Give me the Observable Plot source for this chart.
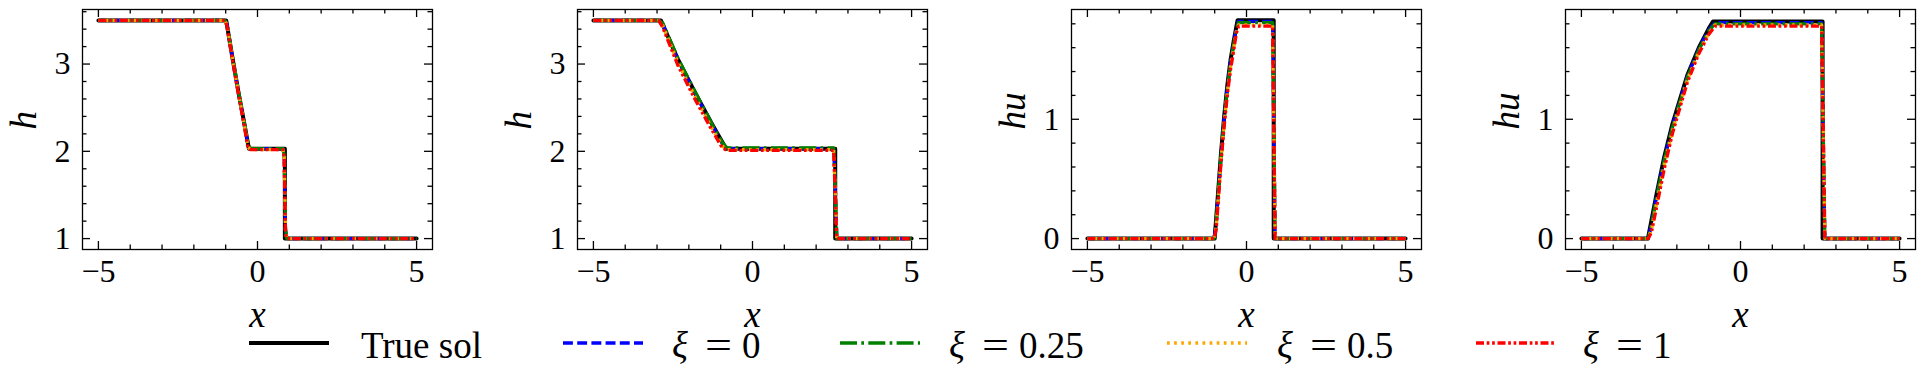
<!DOCTYPE html>
<html><head><meta charset="utf-8">
<script src="https://cdn.jsdelivr.net/npm/d3@7"></script>
<script src="https://cdn.jsdelivr.net/npm/@observablehq/plot@0.6"></script>
<style>
html,body{margin:0;padding:0;background:#fff;}
body{width:1924px;height:392px;overflow:hidden;position:relative;font-family:"Liberation Serif","Times New Roman",serif;}
.panel{position:absolute;top:0;}
.panel svg, .panel svg text, #legend text{font-family:"Liberation Serif","Times New Roman",serif !important;font-variant:normal !important;}
#legend{position:absolute;left:0;top:0;pointer-events:none;}
</style></head><body>
<div id="p1" class="panel"></div>
<div id="p2" class="panel"></div>
<div id="p3" class="panel"></div>
<div id="p4" class="panel"></div>
<svg id="legend" width="1924" height="392"></svg>
<script>
// ---------------- data ----------------
const seriesNames = ["True sol", "0", "0.25", "0.5", "1"];

// ticks
const xMajorTicks = [-5, 0, 5];
const xMinorTicks = [-4, -3, -2, -1, 1, 2, 3, 4];
const hMajorTicks = [1, 2, 3];
const hMinorTicks = [1.2, 1.4, 1.6, 1.8, 2.2, 2.4, 2.6, 2.8, 3.2, 3.4, 3.6];
const huMajorTicks = [0, 1];
const huMinorTicks = [0.2, 0.4, 0.6, 0.8, 1.2, 1.4, 1.6, 1.8];

// panel 1 : h, early time
const p1TrueX = [-5, -0.985, -0.8, -0.6, -0.4, -0.27, 0.86, 0.86, 5];
const p1TrueY = [3.5, 3.5, 3.10, 2.68, 2.29, 2.03, 2.03, 1.0, 1.0];
const p1NumX  = [-5, -1.03, -0.96, -0.8, -0.6, -0.4, -0.3, -0.22, 0.8, 0.84, 0.88, 0.92, 5];
const p1Xi0   = [3.5, 3.5, 3.46, 3.10, 2.68, 2.29, 2.07, 2.03, 2.03, 1.95, 1.10, 1.0, 1.0];
const p1Xi025 = [3.5, 3.5, 3.46, 3.11, 2.69, 2.30, 2.08, 2.03, 2.03, 1.96, 1.12, 1.0, 1.0];
const p1Xi05  = [3.5, 3.5, 3.45, 3.09, 2.67, 2.27, 2.05, 2.02, 2.02, 1.93, 1.08, 1.0, 1.0];
const p1Xi1   = [3.5, 3.5, 3.44, 3.08, 2.66, 2.26, 2.04, 2.02, 2.02, 1.92, 1.06, 1.0, 1.0];

// panel 2 : h, later time
const p2TrueX = [-5, -2.88, -2.35, -1.8, -1.3, -0.83, 2.6, 2.6, 5];
const p2TrueY = [3.5, 3.5, 3.06, 2.67, 2.33, 2.03, 2.03, 1.0, 1.0];
const p2NumX  = [-5, -2.95, -2.82, -2.35, -1.8, -1.3, -0.95, -0.8, 2.55, 2.6, 2.65, 5];
const p2Xi0   = [3.5, 3.5, 3.46, 3.05, 2.66, 2.32, 2.09, 2.03, 2.03, 1.60, 1.0, 1.0];
const p2Xi025 = [3.5, 3.5, 3.47, 3.07, 2.68, 2.33, 2.10, 2.04, 2.04, 1.62, 1.0, 1.0];
const p2Xi05  = [3.5, 3.5, 3.44, 3.02, 2.62, 2.28, 2.06, 2.02, 2.02, 1.55, 1.0, 1.0];
const p2Xi1   = [3.5, 3.5, 3.42, 2.99, 2.59, 2.26, 2.04, 2.01, 2.01, 1.50, 1.0, 1.0];

// panel 3 : hu, early time
const p3TrueX = [-5, -1.0, -0.9, -0.8, -0.7, -0.6, -0.5, -0.4, -0.28, 0.855, 0.855, 5];
const p3TrueY = [0, 0, 0.36, 0.72, 1.03, 1.29, 1.50, 1.66, 1.83, 1.83, 0, 0];
const p3NumX  = [-5, -1.02, -0.95, -0.9, -0.8, -0.7, -0.6, -0.5, -0.4, -0.32, -0.25, 0.82, 0.86, 0.9, 5];
const p3Xi0   = [0, 0, 0.15, 0.34, 0.70, 1.01, 1.27, 1.48, 1.64, 1.77, 1.82, 1.82, 0.9, 0, 0];
const p3Xi025 = [0, 0, 0.14, 0.33, 0.69, 1.00, 1.26, 1.47, 1.63, 1.76, 1.81, 1.81, 0.9, 0, 0];
const p3Xi05  = [0, 0, 0.10, 0.29, 0.66, 0.97, 1.23, 1.44, 1.60, 1.73, 1.79, 1.79, 0.9, 0, 0];
const p3Xi1   = [0, 0, 0.08, 0.27, 0.64, 0.95, 1.21, 1.42, 1.58, 1.72, 1.78, 1.78, 0.9, 0, 0];

// panel 4 : hu, later time
const p4TrueX = [-5, -2.91, -2.64, -2.4, -2.14, -1.67, -1.31, -1.0, -0.86, 2.58, 2.58, 5];
const p4TrueY = [0, 0, 0.37, 0.68, 0.96, 1.37, 1.60, 1.76, 1.82, 1.82, 0, 0];
const p4NumX  = [-5, -2.9, -2.8, -2.64, -2.4, -2.14, -1.67, -1.31, -1.0, -0.8, 2.55, 2.6, 2.65, 5];
const p4Xi0   = [0, 0, 0.12, 0.35, 0.66, 0.94, 1.36, 1.59, 1.75, 1.81, 1.81, 0.9, 0, 0];
const p4Xi025 = [0, 0, 0.11, 0.34, 0.65, 0.93, 1.35, 1.58, 1.74, 1.80, 1.80, 0.9, 0, 0];
const p4Xi05  = [0, 0, 0.07, 0.29, 0.61, 0.90, 1.33, 1.56, 1.72, 1.79, 1.79, 0.9, 0, 0];
const p4Xi1   = [0, 0, 0.05, 0.26, 0.58, 0.88, 1.31, 1.55, 1.71, 1.78, 1.78, 0.9, 0, 0];

// ---------------- styles ----------------
const seriesColors = ["black", "blue", "green", "orange", "red"];
const seriesDash = [null, "9.9,4.3", "17,4.3,2.7,4.3", "2.7,4.4", "8,2.7,2.7,2.7,2.7,2.7"];
const seriesWidth = [4, 3.3, 3.3, 3.3, 3.3];
const FONT = "Liberation Serif, Times New Roman, serif";
const FRAME_W = 350, FRAME_H = 240;
const ML = 80, MR = 8, MT = 9, MB = 82;
const tickFmt = d => (d < 0 ? "\u2212" : "") + Math.abs(d);

function table(xs, ys) { return xs.map((x, i) => ({x, y: ys[i]})); }

function panel(id, left, yDomain, yLabel, yMajor, yMinor, trueX, trueY, numX, nums) {
  const seriesData = [table(trueX, trueY), ...nums.map(n => table(numX, n))];
  const lines = seriesData.map((d, i) => Plot.line(d, {
    x: "x", y: "y", stroke: seriesColors[i], strokeWidth: seriesWidth[i],
    strokeDasharray: seriesDash[i] || undefined,
    strokeLinecap: seriesDash[i] ? "butt" : "round", strokeLinejoin: "round"
  }));
  const tk = {stroke: "black", strokeWidth: 1.3};
  const svg = Plot.plot({
    width: ML + FRAME_W + MR, height: MT + FRAME_H + MB,
    marginLeft: ML, marginRight: MR, marginTop: MT, marginBottom: MB,
    style: {fontFamily: FONT, background: "transparent", overflow: "visible", color: "black"},
    x: {domain: [-5.5, 5.5], label: null},
    y: {domain: yDomain, label: null},
    marks: [
      ...lines,
      Plot.tickX(xMajorTicks, {x: d => d, insetTop: FRAME_H - 8, ...tk}),
      Plot.tickX(xMajorTicks, {x: d => d, insetBottom: FRAME_H - 8, ...tk}),
      Plot.tickX(xMinorTicks, {x: d => d, insetTop: FRAME_H - 4.5, ...tk}),
      Plot.tickX(xMinorTicks, {x: d => d, insetBottom: FRAME_H - 4.5, ...tk}),
      Plot.tickY(yMajor, {y: d => d, insetRight: FRAME_W - 8, ...tk}),
      Plot.tickY(yMajor, {y: d => d, insetLeft: FRAME_W - 8, ...tk}),
      Plot.tickY(yMinor, {y: d => d, insetRight: FRAME_W - 4.5, ...tk}),
      Plot.tickY(yMinor, {y: d => d, insetLeft: FRAME_W - 4.5, ...tk}),
      Plot.frame({stroke: "black", strokeWidth: 1.3}),
      Plot.axisX(xMajorTicks, {tickSize: 0, tickPadding: 10, fontSize: 32, label: null, tickFormat: tickFmt, fontFamily: FONT}),
      Plot.axisY(yMajor, {tickSize: 0, tickPadding: 12, fontSize: 32, label: null, tickFormat: tickFmt, fontFamily: FONT}),
      Plot.text([yLabel], {text: d => d, frameAnchor: "left", dx: -58, rotate: -90,
        fontSize: 37, fontStyle: "italic", fill: "black", fontFamily: FONT}),
      Plot.text(["x"], {text: d => d, frameAnchor: "bottom", dy: 77, lineAnchor: "bottom",
        fontSize: 37, fontStyle: "italic", fill: "black", fontFamily: FONT})
    ]
  });
  const host = document.getElementById(id);
  host.style.left = (left - ML) + "px";
  host.appendChild(svg);
}

const hDomain = [0.875, 3.625];
const huDomain = [-0.0915, 1.92];
panel("p1", 82, hDomain, "h", hMajorTicks, hMinorTicks, p1TrueX, p1TrueY, p1NumX, [p1Xi0, p1Xi025, p1Xi05, p1Xi1]);
panel("p2", 577, hDomain, "h", hMajorTicks, hMinorTicks, p2TrueX, p2TrueY, p2NumX, [p2Xi0, p2Xi025, p2Xi05, p2Xi1]);
panel("p3", 1071, huDomain, "hu", huMajorTicks, huMinorTicks, p3TrueX, p3TrueY, p3NumX, [p3Xi0, p3Xi025, p3Xi05, p3Xi1]);
panel("p4", 1565, huDomain, "hu", huMajorTicks, huMinorTicks, p4TrueX, p4TrueY, p4NumX, [p4Xi0, p4Xi025, p4Xi05, p4Xi1]);

// ---------------- legend ----------------
const lg = d3.select("#legend");
const legLineX = [249, 563, 840, 1167, 1476];
const legTextX = [361, 672, 949, 1277, 1583];
const LEG_Y = 343, LEG_BASE = 358;
seriesNames.forEach((name, i) => {
  lg.append("line").attr("x1", legLineX[i]).attr("x2", legLineX[i] + 80)
    .attr("y1", LEG_Y).attr("y2", LEG_Y)
    .attr("stroke", seriesColors[i]).attr("stroke-width", seriesWidth[i])
    .attr("stroke-dasharray", seriesDash[i]).attr("stroke-linecap", "butt");
  const t = lg.append("text").attr("y", LEG_BASE).attr("font-family", FONT)
    .attr("font-size", 37).attr("fill", "black");
  if (i === 0) {
    t.attr("x", legTextX[i]).text(name);
  } else {
    t.append("tspan").attr("x", legTextX[i]).attr("font-style", "italic").text("ξ");
    t.append("tspan").attr("x", legTextX[i] + 33).attr("textLength", 27)
      .attr("lengthAdjust", "spacingAndGlyphs").text("=");
    t.append("tspan").attr("x", legTextX[i] + 70).text(name);
  }
});
</script>
</body></html>
